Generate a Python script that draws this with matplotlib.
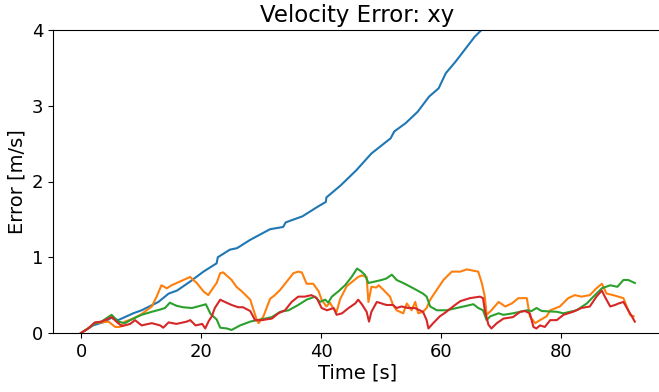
import matplotlib
matplotlib.use("Agg")
import matplotlib.pyplot as plt

# time [s] / xy velocity error [m/s]
t_c0 = [0, 2, 4, 5, 6.2, 8.7, 10.1, 12.9, 14.6, 16, 18.2, 20.4, 22.6, 22.8, 24.8,
        26, 28.2, 31.5, 33.7, 34.1, 36.9, 39.5, 40.8, 40.9, 43.3, 45.9, 48.4,
        51.6, 52.2, 54.1, 56.1, 58, 59.6, 60.8, 62.4, 65.6, 67, 70, 75, 80, 86, 92.3]
err_c0 = [0, 0.1, 0.15, 0.2, 0.17, 0.26, 0.30, 0.41, 0.52, 0.56, 0.68, 0.81, 0.92,
          1.0, 1.10, 1.12, 1.23, 1.37, 1.40, 1.46, 1.54, 1.67, 1.73, 1.79, 1.95,
          2.15, 2.37, 2.57, 2.66, 2.77, 2.92, 3.12, 3.23, 3.43, 3.58, 3.91, 4.02,
          4.3, 4.8, 5.2, 5.8, 6.3]

t_c1 = [0, 1.2, 2.3, 3.4, 4.6, 5.7, 6.5, 7.3, 8.7, 10.1, 11.8, 12.6, 13.4, 14.3,
        15.1, 16.5, 18.2, 18.7, 19.3, 20.4, 21.2, 21.8, 22.6, 23.2, 23.7, 25.1,
        25.9, 26.8, 28.2, 29.3, 29.6, 30.4, 31.5, 32.3, 33.2, 34.3, 35.4, 36.2,
        36.8, 37.6, 38.7, 39.6, 40.1, 40.9, 41.5, 42.0, 42.6, 43.2, 44.3, 45.1,
        46.2, 46.8, 47.6, 47.9, 48.4, 49.2, 49.6, 50.4, 51.5, 52, 52.6, 53.7,
        54.3, 55.1, 55.7, 56.2, 57, 57.6, 58.2, 59.3, 60.4, 61.8, 63.2, 64.3,
        66.2, 66.8, 67.3, 67.6, 68.4, 69.6, 70.7, 71.8, 72.9, 74.3, 74.8, 75.7,
        76.5, 77.6, 78.2, 79.8, 81.2, 82.3, 83.4, 84.8, 85.9, 86.8, 87.6, 88.7,
        90.4, 91.5, 92.1]
err_c1 = [0, 0.06, 0.13, 0.14, 0.15, 0.08, 0.08, 0.15, 0.19, 0.25, 0.35, 0.48,
          0.63, 0.59, 0.63, 0.68, 0.74, 0.70, 0.66, 0.55, 0.50, 0.57, 0.66, 0.79,
          0.80, 0.70, 0.61, 0.55, 0.44, 0.17, 0.13, 0.22, 0.45, 0.50, 0.57, 0.68,
          0.79, 0.81, 0.80, 0.65, 0.65, 0.55, 0.44, 0.35, 0.40, 0.33, 0.28, 0.45,
          0.62, 0.67, 0.74, 0.76, 0.74, 0.41, 0.61, 0.60, 0.63, 0.57, 0.48, 0.37,
          0.30, 0.26, 0.39, 0.30, 0.41, 0.26, 0.28, 0.33, 0.44, 0.57, 0.70, 0.81,
          0.81, 0.84, 0.81, 0.66, 0.48, 0.24, 0.30, 0.41, 0.35, 0.39, 0.46, 0.46,
          0.22, 0.13, 0.17, 0.22, 0.30, 0.35, 0.46, 0.50, 0.48, 0.50, 0.59, 0.65,
          0.52, 0.50, 0.46, 0.24, 0.22]

t_c2 = [0, 1.2, 2.3, 3.4, 5.1, 6.2, 7.3, 8.7, 10.1, 11.8, 13.2, 14.0, 14.8, 15.9,
        17, 18.5, 20.4, 20.8, 21.6, 22.6, 23.2, 24.3, 25.1, 26.5, 28.2, 29.3,
        30.7, 31.8, 33.2, 34.6, 36.2, 37.6, 39, 39.8, 40.7, 41.2, 41.8, 42.9,
        44, 45.1, 46, 46.6, 47.3, 47.9, 49, 50.1, 50.9, 51.8, 52.6, 53.7, 55.4,
        57, 57.6, 58.2, 59.3, 60.9, 63.2, 65.4, 66.2, 67, 67.6, 68.2, 69.6,
        70.4, 72, 74.3, 75.1, 75.9, 76.8, 79.3, 80.4, 82.6, 84.3, 85.4, 86.8,
        88.2, 89.4, 90.4, 91.2, 92.3]
err_c2 = [0, 0.06, 0.13, 0.15, 0.24, 0.15, 0.13, 0.19, 0.24, 0.28, 0.31, 0.33,
          0.40, 0.36, 0.34, 0.33, 0.37, 0.38, 0.25, 0.18, 0.07, 0.06, 0.04, 0.10,
          0.15, 0.17, 0.19, 0.21, 0.28, 0.30, 0.37, 0.44, 0.48, 0.41, 0.44, 0.40,
          0.48, 0.55, 0.63, 0.74, 0.85, 0.82, 0.77, 0.66, 0.68, 0.70, 0.72, 0.77,
          0.70, 0.66, 0.59, 0.52, 0.48, 0.35, 0.30, 0.30, 0.34, 0.38, 0.33, 0.30,
          0.17, 0.22, 0.26, 0.24, 0.26, 0.30, 0.29, 0.33, 0.29, 0.28, 0.26, 0.30,
          0.39, 0.48, 0.59, 0.63, 0.61, 0.70, 0.70, 0.66]

t_c3 = [0, 1.2, 2.3, 3.4, 4.6, 5.1, 5.9, 6.8, 8.2, 9, 10.1, 11.8, 13.2, 13.7,
        14.6, 15.9, 17.6, 18.2, 19.1, 20.2, 20.7, 21.3, 21.8, 22.3, 23.2, 23.7,
        25.1, 26.2, 27, 28.2, 29, 30.2, 30.9, 31.8, 32.9, 34, 35.1, 36.2, 37.3,
        38.4, 39.3, 40.1, 41, 42.1, 42.6, 43.5, 44.6, 45.7, 46.2, 46.8, 47.6,
        48, 48.4, 49.3, 50.1, 50.9, 52, 52.6, 53.4, 54.5, 55.6, 57, 57.6, 57.9,
        58.7, 59.8, 60.9, 62, 63.2, 64.8, 66.5, 67, 67.3, 67.9, 68.4, 69.3,
        70.4, 72, 73.2, 74, 74.8, 75.4, 75.9, 76.5, 77.3, 78.2, 79.3, 80.4, 82,
        83.4, 84.8, 85.9, 86.8, 87.3, 88.2, 89, 89.6, 90.4, 91.2, 91.8, 92.3]
err_c3 = [0, 0.06, 0.14, 0.15, 0.19, 0.21, 0.15, 0.09, 0.12, 0.17, 0.10, 0.13,
          0.10, 0.07, 0.14, 0.12, 0.15, 0.17, 0.10, 0.12, 0.06, 0.16, 0.22, 0.33,
          0.44, 0.42, 0.37, 0.34, 0.34, 0.29, 0.17, 0.17, 0.18, 0.19, 0.26, 0.30,
          0.41, 0.48, 0.48, 0.50, 0.46, 0.33, 0.30, 0.33, 0.24, 0.26, 0.33, 0.39,
          0.44, 0.38, 0.28, 0.15, 0.28, 0.41, 0.39, 0.37, 0.37, 0.33, 0.35, 0.33,
          0.33, 0.28, 0.17, 0.06, 0.13, 0.22, 0.28, 0.35, 0.42, 0.46, 0.48, 0.46,
          0.30, 0.11, 0.06, 0.13, 0.19, 0.21, 0.28, 0.29, 0.26, 0.08, 0.06, 0.10,
          0.08, 0.17, 0.17, 0.24, 0.28, 0.33, 0.35, 0.48, 0.56, 0.48, 0.35, 0.37,
          0.39, 0.41, 0.30, 0.22, 0.15]

fig = plt.figure(figsize=(6.59, 3.92), dpi=100)
ax = fig.add_axes([53 / 659, 59 / 392, 609 / 659, 303 / 392])

ax.plot(t_c0, err_c0, color="C0", linewidth=1.5)
ax.plot(t_c1, err_c1, color="C1", linewidth=1.5)
ax.plot(t_c2, err_c2, color="C2", linewidth=1.5)
ax.plot(t_c3, err_c3, color="C3", linewidth=1.5)

ax.set_xlim(-4.67, 96.83)
ax.set_ylim(0, 4)
ax.set_xticks([0, 20, 40, 60, 80])
ax.set_yticks([0, 1, 2, 3, 4])
ax.tick_params(labelsize=13)
# the reference is cut off at the right edge, so no right spine shows
ax.spines["right"].set_visible(False)

ax.set_title("Velocity Error: xy", fontsize=16.5)
ax.set_xlabel("Time [s]", fontsize=14, labelpad=2)
ax.set_ylabel("Error [m/s]", fontsize=14)

fig.savefig("out.png", dpi=100)
